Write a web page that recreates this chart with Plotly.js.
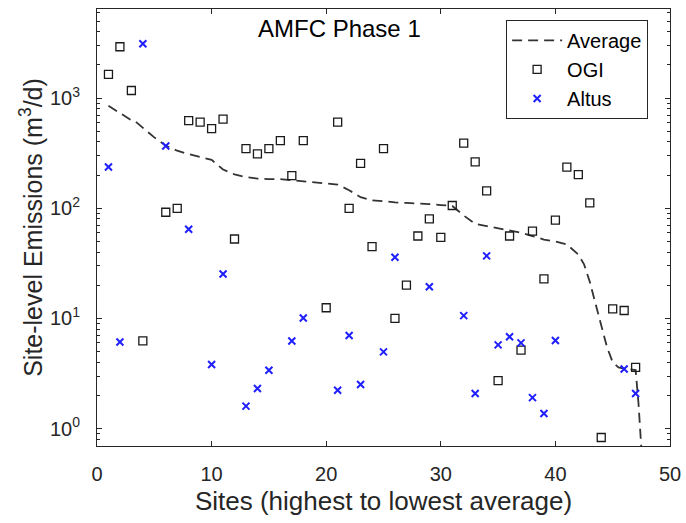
<!DOCTYPE html>
<html>
<head>
<meta charset="utf-8">
<script src="https://cdn.plot.ly/plotly-3.0.1.min.js"></script>
<style>html,body{margin:0;padding:0;background:#fff;}#chart{width:686px;height:523px;}</style>
</head>
<body>
<div id="chart"></div>
<script>
// ---- Data ----
const ogiSites = [1,2,3,4,6,7,8,9,10,11,12,13,14,15,16,17,18,20,21,22,23,24,25,26,27,28,29,30,31,32,33,34,35,36,37,38,39,40,41,42,43,44,45,46,47];
const ogiValues = [1640,2925,1173,6.25,92,100,625,605,529,645,52.6,348,312,348,412,198,412,12.5,605,100,256,44.8,348,10.0,20.1,56,80,54.5,106,390,264,144,2.73,56,5.15,62,22.9,78,236,202,112,0.83,12.2,11.8,3.6];

const altusSites = [1,2,4,6,8,10,11,13,14,15,17,18,21,22,23,25,26,29,32,33,34,35,36,37,38,39,40,46,47];
const altusValues = [237,6.1,3120,368,64.4,3.82,25.3,1.60,2.31,3.39,6.25,10.1,2.23,7.0,2.51,4.97,35.9,19.4,10.6,2.08,37,5.75,6.81,6.0,1.91,1.37,6.31,3.48,2.08];

const avgX = [1,2,3,3.3,4,5,6,7,8,9,10,11,12,13,14,15,16,17,18,19,20,21,22,23,24,25,26,27,28,29,30,31,32,33,34,35,36,37,38,39,40,41,42,42.5,43,43.5,44,44.5,45,45.5,46,46.5,47,47.25,47.6];
const avgY = [851,728,630,620,540,440,370,333,310,294,275,225,203,192,186,184,184,180,175,171,168,164,146,126,118,116,113,112,111,109,107,105,86,72,69,66,63,60,56,52,50,47,38,31,21.5,13.5,8.3,5.5,4.0,3.6,3.5,3.45,3.4,1.7,0.45];

const yTickVals = [1,10,100,1000];
const yTickText = ['10<sup>0</sup>','10<sup>1</sup>','10<sup>2</sup>','10<sup>3</sup>'];

const chartTitle = 'AMFC Phase 1';
const xLabel = 'Sites (highest to lowest average)';
const yLabel = 'Site-level Emissions (m<sup>3</sup>/d)';

// minor tick positions (2..9 per decade)
const minorVals = [];
for (let e = -1; e <= 3; e++) {
  for (let k = 2; k <= 9; k++) minorVals.push(k * Math.pow(10, e));
}

const font = 'Liberation Sans, Arial, Helvetica, sans-serif';
const axisColor = '#262626';

const traces = [
  {
    x: avgX, y: avgY, name: 'Average', type: 'scatter', mode: 'lines',
    line: {color: '#333333', width: 1.8, dash: '10px,6px'}
  },
  {
    x: ogiSites, y: ogiValues, name: 'OGI', type: 'scatter', mode: 'markers',
    marker: {symbol: 'square-open', size: 8, color: '#1a1a1a', line: {width: 1.3, color: '#1a1a1a'}}
  },
  {
    x: altusSites, y: altusValues, name: 'Altus', type: 'scatter', mode: 'markers',
    marker: {symbol: 'x-thin-open', size: 7, color: '#1f1fff', line: {width: 2, color: '#1f1fff'}}
  }
];

const layout = {
  width: 686, height: 523,
  margin: {l: 97, r: 16, t: 9, b: 77, pad: 0},
  paper_bgcolor: '#ffffff', plot_bgcolor: '#ffffff',
  font: {family: font, color: axisColor, size: 20},
  showlegend: true,
  legend: {
    x: 0.714, y: 0.975, xanchor: 'left', yanchor: 'top',
    bgcolor: '#ffffff', bordercolor: '#262626', borderwidth: 1,
    font: {family: font, size: 20, color: '#000'},
    itemwidth: 50, tracegroupgap: 0
  },
  xaxis: {
    range: [0, 50], dtick: 10, tick0: 0,
    ticks: 'inside', ticklen: 5, tickwidth: 1, tickcolor: axisColor,
    showline: true, linecolor: axisColor, linewidth: 1, mirror: 'ticks',
    showgrid: false, zeroline: false,
    tickfont: {family: font, size: 20, color: axisColor},
    ticklabelstandoff: 10,
    title: {text: xLabel, font: {family: font, size: 26, color: axisColor}, standoff: 7}
  },
  yaxis: {
    type: 'log', range: [-0.158, 3.809],
    tickmode: 'array', tickvals: yTickVals, ticktext: yTickText,
    ticks: 'inside', ticklen: 5, tickwidth: 1, tickcolor: axisColor,
    minor: {tickmode: 'array', tickvals: minorVals, ticks: 'inside', ticklen: 3, tickcolor: axisColor, showgrid: false},
    showline: true, linecolor: axisColor, linewidth: 1, mirror: 'ticks',
    showgrid: false, zeroline: false,
    tickfont: {family: font, size: 20, color: axisColor},
    ticklabelstandoff: 12,
    title: {text: yLabel, font: {family: font, size: 25, color: axisColor}, standoff: 0}
  },
  annotations: [{
    text: chartTitle, xref: 'x', yref: 'paper', x: 21.2, y: 0.955,
    xanchor: 'center', yanchor: 'middle', showarrow: false,
    font: {family: font, size: 24, color: '#000'}
  }]
};

Plotly.newPlot('chart', traces, layout, {displayModeBar: false, staticPlot: true});
</script>
</body>
</html>
